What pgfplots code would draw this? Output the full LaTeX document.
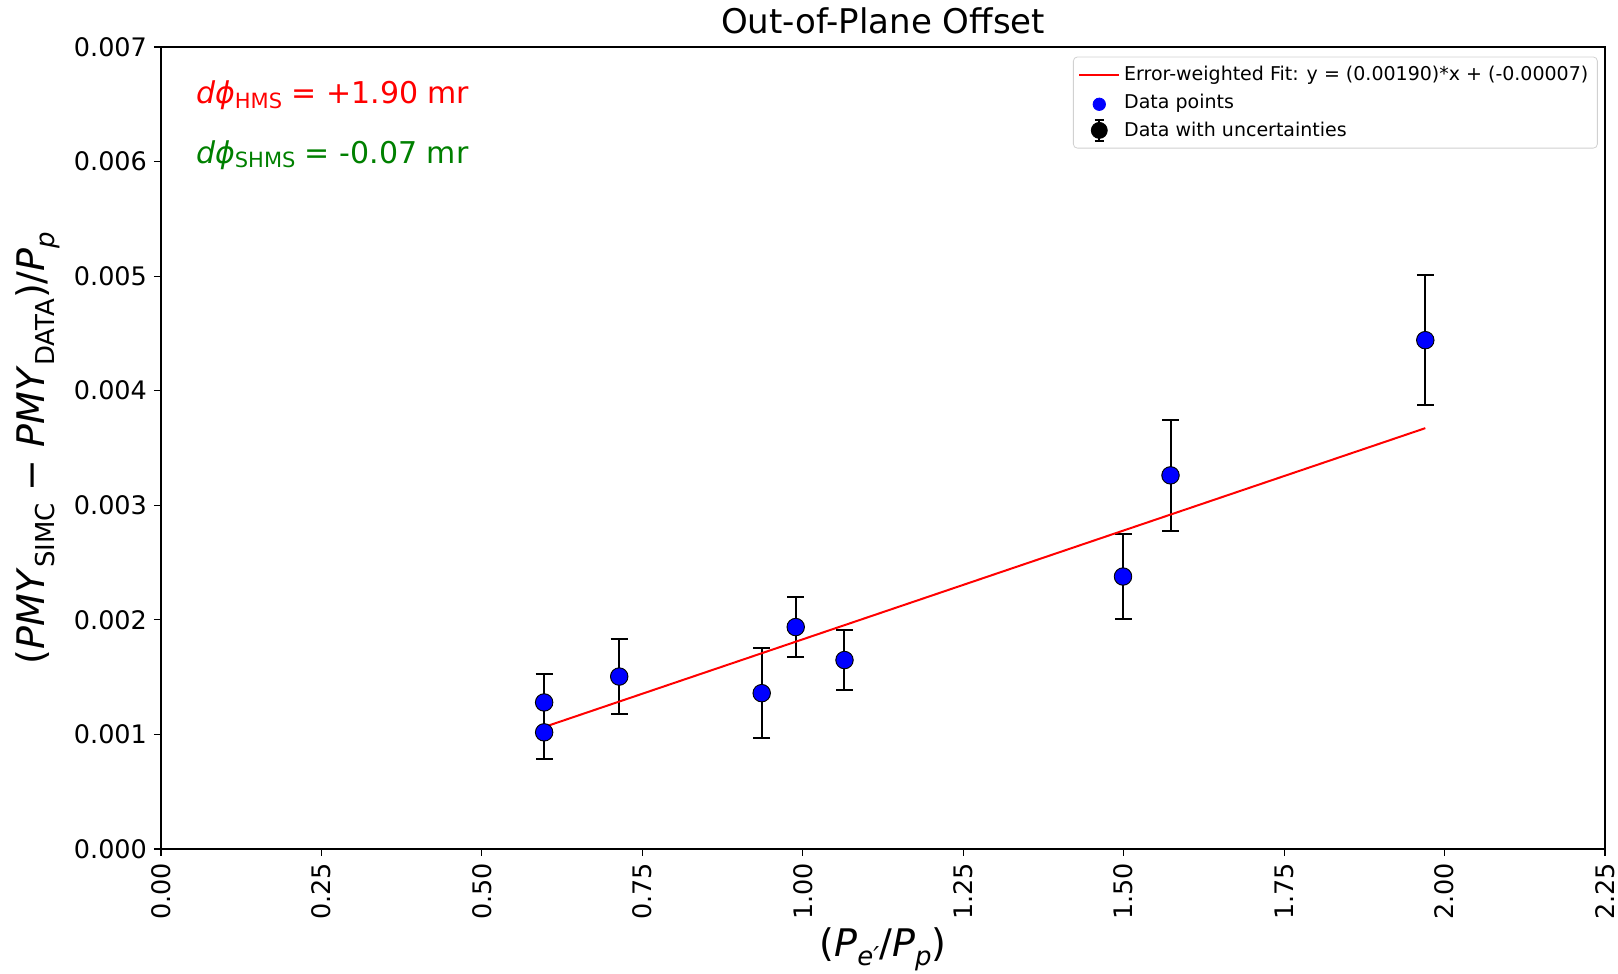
\documentclass[border=0pt]{standalone}
\usepackage{fontspec}
\setmainfont{DejaVu Sans}
\usepackage{amsmath}
\usepackage{pgfplots}
\pgfplotsset{compat=1.18}
\definecolor{mplgreen}{RGB}{0,128,0}
\begin{document}
\begin{tikzpicture}
\begin{axis}[
  name=ax,
  scale only axis,
  width=722pt, height=401pt,
  xmin=0, xmax=2.25, ymin=0, ymax=0.007,
  xtick={0,0.25,...,2.25},
  ytick={0,0.001,...,0.007},
  xtick pos=bottom, ytick pos=left,
  scaled y ticks=false, scaled x ticks=false,
  tick align=outside,
  major tick length=3.5pt,
  tick style={black, line width=0.55pt},
  axis line style={line width=0.55pt},
  /pgf/number format/assume math mode=true,
  xticklabel style={rotate=90, anchor=east, font=\fontsize{12.75}{15}\selectfont,
    /pgf/number format/.cd, fixed, fixed zerofill, precision=2},
  yticklabel style={font=\fontsize{12.75}{15}\selectfont,
    /pgf/number format/.cd, fixed, fixed zerofill, precision=3},
  legend style={at={(0.995,0.988)}, anchor=north east, draw=black!18, rounded corners=2pt,
    font=\fontsize{9.5}{11}\selectfont, row sep=1.2pt, inner sep=2.5pt},
  legend cell align=left,
]
% legend entries
\addlegendimage{legend image code/.code={
  \draw[red, line width=1pt] (-0.1cm,0cm) -- (0.6cm,0cm);
}}
\addlegendentry{Error-weighted Fit: y = (0.00190)*x + (-0.00007)}
\addlegendimage{legend image code/.code={
  \fill[blue] (0.25cm,-0.03cm) circle (3.1pt);
}}
\addlegendentry{Data points}
\addlegendimage{legend image code/.code={
  \draw[black, line width=1pt] (0.25cm,-0.18cm) -- (0.25cm,0.18cm);
  \draw[black, line width=1pt] (0.17cm,-0.18cm) -- (0.33cm,-0.18cm);
  \draw[black, line width=1pt] (0.17cm,0.18cm) -- (0.33cm,0.18cm);
  \fill[black] (0.25cm,0cm) circle (4pt);
}}
\addlegendentry{Data with uncertainties}

% error bars with black markers
\addplot[forget plot, only marks, mark=*, mark size=4.4pt, black,
  mark options={fill=black, draw=black},
  error bars/.cd, y dir=both, y explicit,
  error bar style={line width=1pt, black},
  error mark options={rotate=90, mark size=4.25pt, line width=1pt, black}]
  table[x=x, y=y, y error=e] {
x y e
0.597 0.001279 0.000252
0.597 0.001018 0.000235
0.714 0.001505 0.000325
0.936 0.001360 0.000390
0.989 0.001937 0.000260
1.065 0.001649 0.000262
1.499 0.002378 0.000374
1.573 0.003261 0.000487
1.970 0.004441 0.000567
};

% fit line
\addplot[forget plot, red, line width=1pt] coordinates {(0.597,0.0010643) (1.970,0.003673)};

% blue markers on top
\addplot[forget plot, only marks, mark=*, mark size=3.85pt, mark options={draw=blue, fill=blue}]
  table[x=x, y=y] {
x y
0.597 0.001279
0.597 0.001018
0.714 0.001505
0.936 0.001360
0.989 0.001937
1.065 0.001649
1.499 0.002378
1.573 0.003261
1.970 0.004441
};

\node[anchor=base west, text=red, font=\fontsize{15}{18}\selectfont, inner sep=0pt]
  at (rel axis cs:0.024,0.929) {\textit{dϕ}\raisebox{-0.15em}{\fontsize{10.5}{12}\selectfont HMS} = +1.90 mr};
\node[anchor=base west, text=mplgreen, font=\fontsize{15}{18}\selectfont, inner sep=0pt]
  at (rel axis cs:0.024,0.855) {\textit{dϕ}\raisebox{-0.15em}{\fontsize{10.5}{12}\selectfont SHMS} = -0.07 mr};
\end{axis}

% title
\node[anchor=base, font=\fontsize{17}{20}\selectfont, inner sep=0pt] at ([yshift=6.5pt]ax.north) {Out-of-Plane Offset};
% x label
\node[anchor=base, font=\fontsize{19}{22}\selectfont, inner sep=0pt] at ([yshift=-54pt]ax.south)
  {(\textit{P}\raisebox{-0.22em}{\fontsize{13}{15}\selectfont\textit{e′}}/\textit{P}\raisebox{-0.22em}{\fontsize{13}{15}\selectfont\textit{p}})};
% y label
\node[rotate=90, anchor=south, font=\fontsize{19}{22}\selectfont, inner sep=0pt] at ([xshift=-50.5pt]ax.west)
  {(\textit{PMY}\raisebox{-0.25em}{\fontsize{13}{15}\selectfont SIMC} − \textit{PMY}\raisebox{-0.25em}{\fontsize{13}{15}\selectfont DATA})/\textit{P}\raisebox{-0.25em}{\fontsize{13}{15}\selectfont\textit{p}}};

\pgfresetboundingbox
\useasboundingbox ([xshift=-80.5pt, yshift=-62.5pt]ax.south west) rectangle ([xshift=6.5pt, yshift=23.5pt]ax.north east);
\end{tikzpicture}
\end{document}
